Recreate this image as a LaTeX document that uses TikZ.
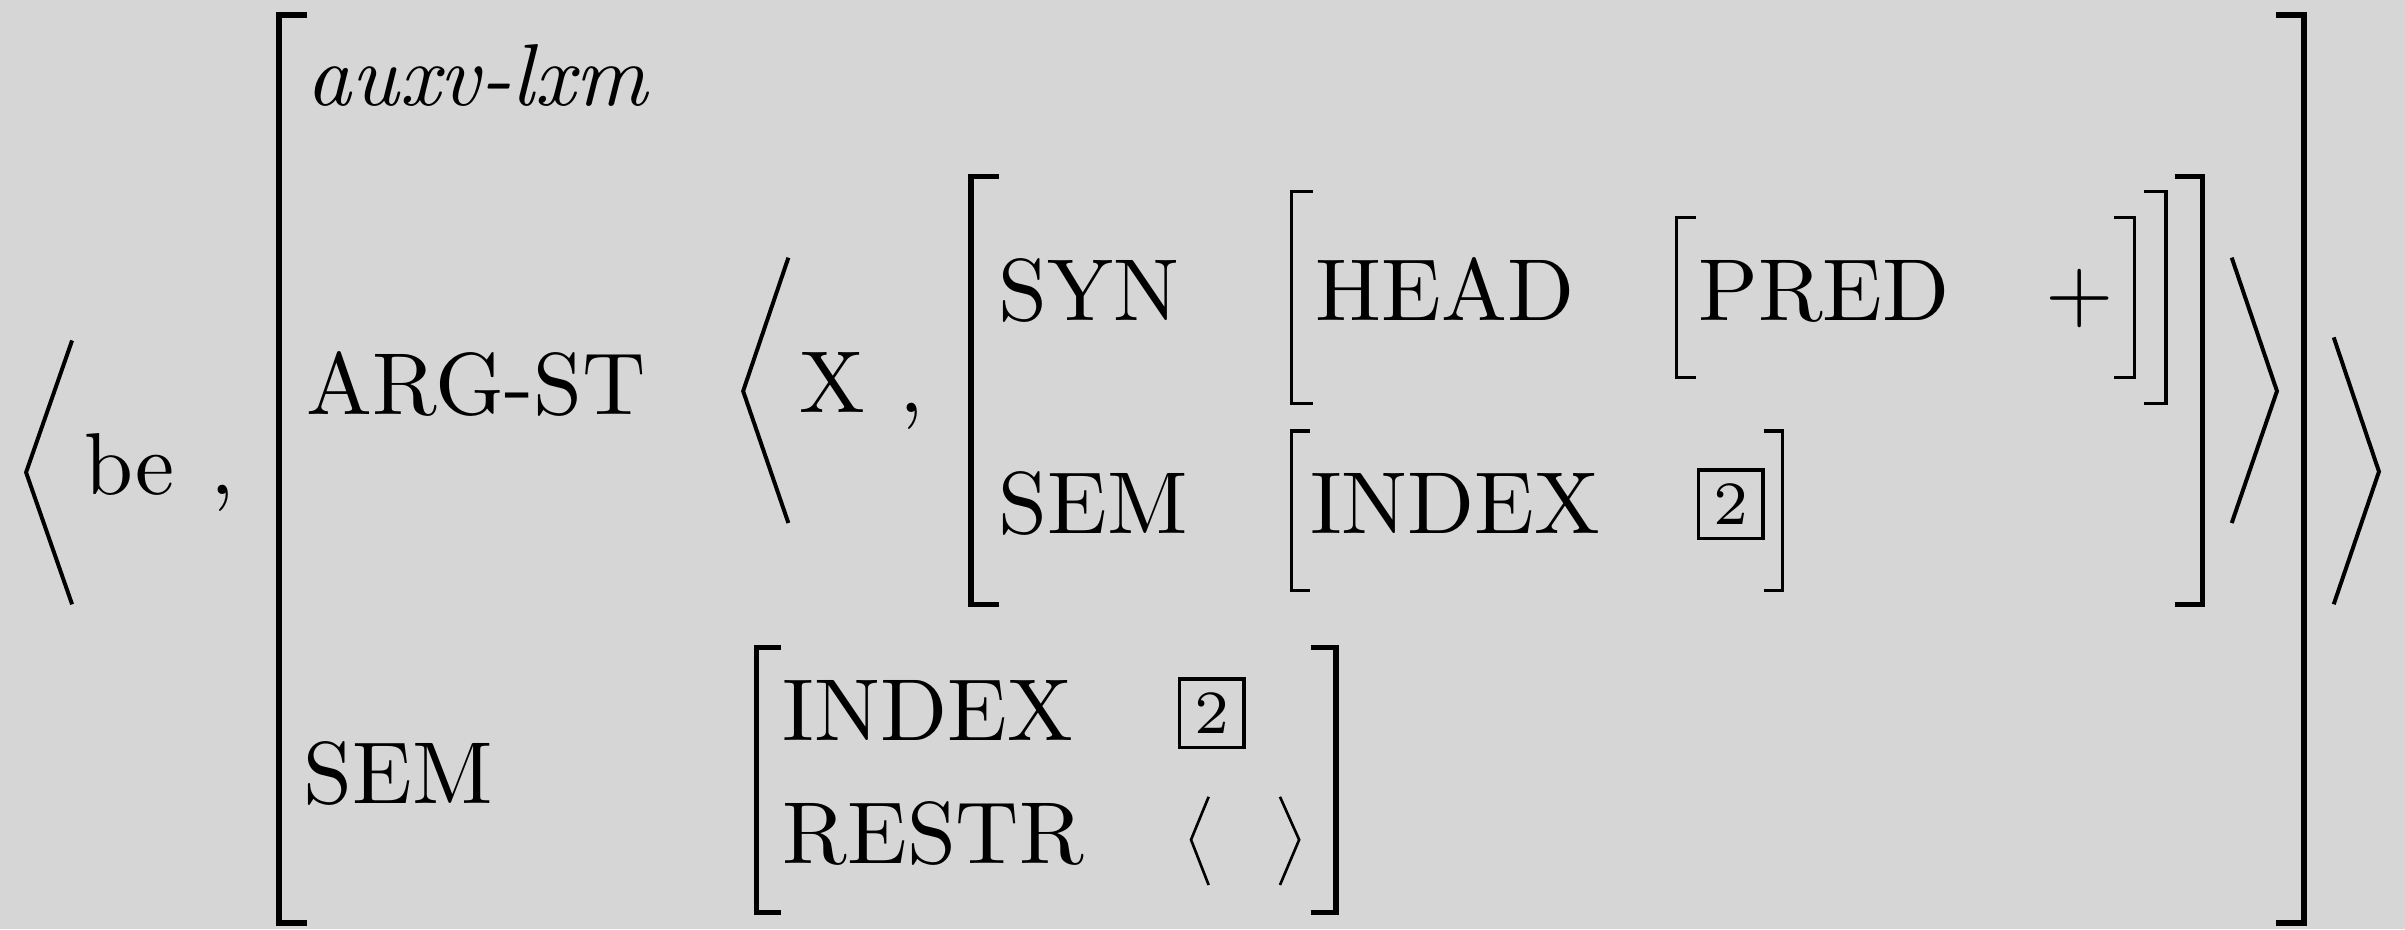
\documentclass[tikz,border=0pt]{standalone}
\definecolor{avmbg}{RGB}{214,214,214}
\begin{document}
\begin{tikzpicture}[x=0.6133cm, y=0.6133cm,
		lbl/.style={anchor=base west, inner sep=0pt},
		brkbig/.style={line width=0.7pt},
		brkmid/.style={line width=0.6pt},
		brksmall/.style={line width=0.4pt},
		brktiny/.style={line width=0.33pt},
		ang/.style={line width=0.45pt},
		angsmall/.style={line width=0.3pt},
		tagbox/.style={draw, line width=0.4pt, inner sep=0pt, minimum width=0.258cm, minimum height=0.273cm, font=\scriptsize}]
			\fill[avmbg] (0,0) rectangle (15.68,6.06);
			\useasboundingbox (0,0) rectangle (15.68,6.06);

			% outer list
			\draw[ang] (0.47,3.84) to (0.17,2.98) to (0.47,2.12);
			\node[lbl] (be) at (0.54,2.835){be};
			\node[lbl] (comma1) at (1.36,2.835){,};
			\draw[ang] (15.215,3.86) to (15.51,2.985) to (15.215,2.12);

			% big matrix
			\draw[brkbig] (2.0,5.96) to (1.82,5.96) to (1.82,0.04) to (2.0,0.04);
			\draw[brkbig] (14.84,5.96) to (15.02,5.96) to (15.02,0.04) to (14.84,0.04);
				\node[lbl] (type) at (1.99,5.37){\textit{auxv-lxm}};
				\node[lbl] (argst) at (1.99,3.355){ARG-ST};
				\node[lbl] (sem) at (1.97,0.82){SEM};

			% arg-st list
			\draw[ang] (5.14,4.38) to (4.845,3.51) to (5.14,2.65);
				\node[lbl] (x) at (5.20,3.37){X};
				\node[lbl] (comma2) at (5.85,3.37){,};
			\draw[ang] (14.55,4.38) to (14.845,3.51) to (14.55,2.65);

			% second argument
			\draw[brkmid] (6.51,4.91) to (6.33,4.91) to (6.33,2.12) to (6.51,2.12);
			\draw[brkmid] (14.18,4.91) to (14.36,4.91) to (14.36,2.12) to (14.18,2.12);
				\node[lbl] (syn) at (6.50,3.97){SYN};
				\node[lbl] (argsem) at (6.50,2.58){SEM};

				\draw[brksmall] (8.56,4.81) to (8.42,4.81) to (8.42,3.43) to (8.56,3.43);
				\draw[brksmall] (13.98,4.81) to (14.12,4.81) to (14.12,3.43) to (13.98,3.43);
					\node[lbl] (head) at (8.565,3.97){HEAD};

					\draw[brktiny] (11.06,4.64) to (10.93,4.64) to (10.93,3.60) to (11.06,3.60);
					\draw[brktiny] (13.78,4.64) to (13.915,4.64) to (13.915,3.60) to (13.78,3.60);
						\node[lbl] (pred) at (11.06,3.97){PRED};
						\node[anchor=base, inner sep=0pt] (plus) at (13.56,3.97){$+$};

				\draw[brksmall] (8.54,3.25) to (8.42,3.25) to (8.42,2.21) to (8.54,2.21);
				\draw[brksmall] (11.50,3.25) to (11.62,3.25) to (11.62,2.21) to (11.50,2.21);
					\node[lbl] (index1) at (8.53,2.58){INDEX};
					\node[tagbox] (tag1) at (11.285,2.772){2};

			% sem value
			\draw[brkmid] (5.09,1.84) to (4.93,1.84) to (4.93,0.11) to (5.09,0.11);
			\draw[brkmid] (8.55,1.84) to (8.71,1.84) to (8.71,0.11) to (8.55,0.11);
				\node[lbl] (index2) at (5.09,1.235){INDEX};
				\node[tagbox] (tag2) at (7.90,1.41){2};
				\node[lbl] (restr) at (5.09,0.43){RESTR};
				\draw[angsmall] (7.88,0.865) to (7.765,0.585) to (7.88,0.29);
				\draw[angsmall] (8.345,0.865) to (8.47,0.585) to (8.345,0.29);

		\end{tikzpicture}
\end{document}
